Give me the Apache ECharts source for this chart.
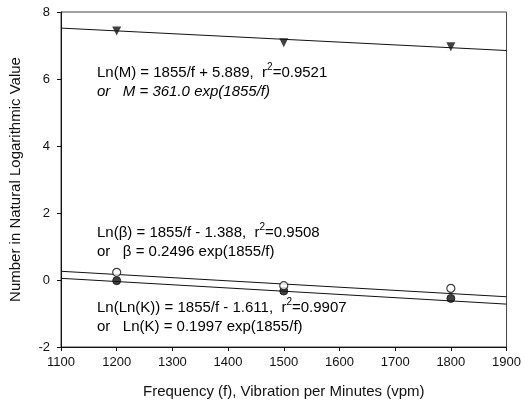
<!DOCTYPE html>
<html>
<head>
<meta charset="utf-8">
<script src="https://cdn.jsdelivr.net/npm/echarts@6/dist/echarts.min.js"></script>
<style>html,body{margin:0;padding:0;background:#fff}#c{width:524px;height:405px}</style>
</head>
<body>
<div id="c"></div>
<script>
const freq = [1200, 1500, 1800];
const lnM = [7.43, 7.08, 6.96];
const lnBeta = [0.23, -0.17, -0.25];
const lnLnK = [-0.02, -0.33, -0.55];
const fitX = [1100, 1900];
const fitM = [7.52, 6.85];
const fitBeta = [0.26, -0.5];
const fitK = [0.05, -0.72];
const yTicks = [-2, 0, 2, 4, 6, 8];
const xTicks = [1100, 1200, 1300, 1400, 1500, 1600, 1700, 1800, 1900];

const pairs = (xs, ys) => xs.map((x, i) => [x, ys[i]]);
const F = 'Liberation Sans, Arial, Helvetica, sans-serif';
const chart = echarts.init(document.getElementById('c'), null, {renderer: 'canvas'});

const lineSeries = (ys) => ({
  type: 'line', data: pairs(fitX, ys), symbol: 'none',
  lineStyle: {color: '#111', width: 1}, silent: true, z: 2
});
const txt = {fontFamily: F, fontSize: 15, color: '#111'};
const rich = {
  a: {fontFamily: F, fontSize: 15, color: '#111'},
  s: {fontFamily: F, fontSize: 10, color: '#111', padding: [0, 0, 11, 0]}
};
function eq(x, y, main, r) {
  return {type: 'text', left: x, top: y, style: {text: '{a|' + main + '  r}{s|2}{a|=' + r + '}', rich: rich}};
}
function plain(x, y, t, italic) {
  return {type: 'text', left: x, top: y, style: Object.assign({}, txt, {text: t, fontStyle: italic ? 'italic' : 'normal'})};
}

chart.setOption({
  animation: false,
  backgroundColor: '#fff',
  grid: {left: 55, right: 13, top: 12, bottom: 58, show: true, borderColor: '#444', borderWidth: 1},
  xAxis: {
    type: 'value', min: 1100, max: 1900, interval: 100,
    name: 'Frequency (f), Vibration per Minutes (vpm)', nameLocation: 'middle', nameGap: 37,
    nameTextStyle: {fontFamily: F, fontSize: 15, color: '#111'},
    axisLine: {onZero: false, lineStyle: {color: '#111'}},
    axisTick: {show: true, inside: false, length: 4, lineStyle: {color: '#111'}},
    axisLabel: {fontFamily: F, fontSize: 13, color: '#111', margin: 9,
      formatter: v => xTicks.includes(v) ? String(v) : ''},
    splitLine: {show: false}
  },
  yAxis: {
    type: 'value', min: -2, max: 8, interval: 2,
    name: 'Number in Natural Logarithmic Value', nameLocation: 'middle', nameGap: 38,
    nameTextStyle: {fontFamily: F, fontSize: 15, color: '#111'},
    axisLine: {show: true, onZero: false, lineStyle: {color: '#111'}},
    axisTick: {show: true, inside: false, length: 4, lineStyle: {color: '#111'}},
    axisLabel: {fontFamily: F, fontSize: 13, color: '#111', margin: 11,
      formatter: v => yTicks.includes(v) ? String(v) : ''},
    splitLine: {show: false}
  },
  series: [
    lineSeries(fitM), lineSeries(fitBeta), lineSeries(fitK),
    {type: 'scatter', data: pairs(freq, lnM), symbol: 'triangle', symbolRotate: 180, symbolSize: 9,
      itemStyle: {color: '#111'}, z: 3},
    {type: 'scatter', data: pairs(freq, lnLnK), symbol: 'circle', symbolSize: 8,
      itemStyle: {color: '#111', borderColor: '#111', borderWidth: 1}, z: 3},
    {type: 'scatter', data: pairs(freq, lnBeta), symbol: 'circle', symbolSize: 8,
      itemStyle: {color: '#fff', borderColor: '#111', borderWidth: 1.2}, z: 4}
  ],
  graphic: [
    eq(97, 62, 'Ln(M) = 1855/f + 5.889,', '0.9521'),
    plain(97, 84, 'or   M = 361.0 exp(1855/f)', true),
    eq(97, 222, 'Ln(\u03B2) = 1855/f - 1.388,', '0.9508'),
    plain(97, 244, 'or   \u03B2 = 0.2496 exp(1855/f)', false),
    eq(97, 297, 'Ln(Ln(K)) = 1855/f - 1.611,', '0.9907'),
    plain(97, 319, 'or   Ln(K) = 0.1997 exp(1855/f)', false)
  ]
});
</script>
</body>
</html>
